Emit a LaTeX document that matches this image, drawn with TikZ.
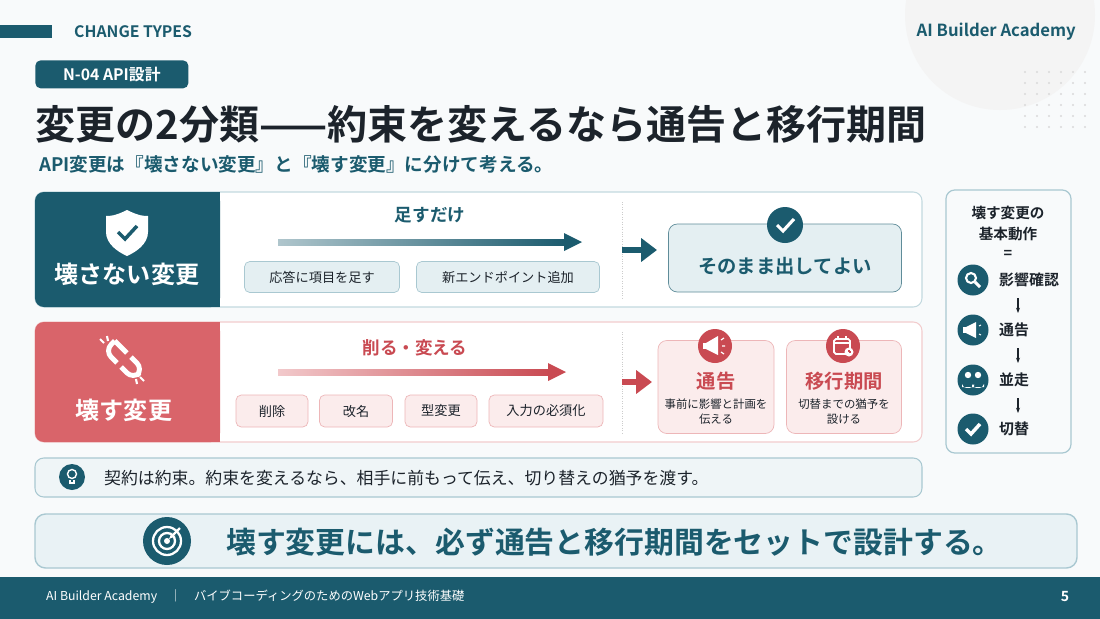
\documentclass[tikz,border=0pt]{standalone}
\usepackage{fontspec}
\setmainfont{Noto Sans CJK JP}[BoldFont={Noto Sans CJK JP Bold}]
\usetikzlibrary{arrows.meta,shapes.geometric}
\definecolor{teal}{HTML}{1B5B6E}
\definecolor{tealL}{HTML}{E4EFF2}
\definecolor{tealB}{HTML}{A9C8D1}
\definecolor{red}{HTML}{D9646A}
\definecolor{redD}{HTML}{C94A52}
\definecolor{pink}{HTML}{FBECEC}
\definecolor{pinkB}{HTML}{EDB6B8}
\definecolor{ink}{HTML}{1C232B}
\definecolor{bg}{HTML}{F8FAFB}
\newcommand{\fz}[1]{\fontsize{#1pt}{#1pt}\selectfont}
\tikzset{
 pill/.style={rounded corners=3pt,draw=tealB,fill=tealL,text=ink,font=\fz{7.5}},
 rpill/.style={rounded corners=3pt,draw=pinkB,fill=pink,text=ink,font=\fz{7.5}},
 panel/.style={rounded corners=5pt,draw=tealB!70,fill=white,line width=0.6pt},
 icon/.style={circle,fill=teal,minimum size=#1,inner sep=0pt},
 lbl/.style={anchor=west,font=\bfseries\fz{8.5},text=ink},
 dn/.style={-{Stealth[length=3pt]},ink,line width=0.8pt}
}
\begin{document}
\begin{tikzpicture}[x=0.02cm,y=-0.02cm]
\useasboundingbox (0,0) rectangle (1100,619);
\fill[bg] (0,0) rectangle (1100,619);
\fill[gray!9] (1000,15) circle (95);
\foreach \i in {0,...,5}\foreach \j in {0,...,5}{\fill[gray!30] (1025+\i*12,72+\j*11) circle (1.2);}
% header
\fill[teal] (0,25) rectangle (52,38);
\node[anchor=west,text=teal,font=\bfseries\fz{9}] (ct) at (68,32) {CHANGE TYPES};
\node[anchor=east,text=teal,font=\bfseries\fz{9.5}] (ab) at (1082,32) {AI Builder Academy};
\node[fill=teal,rounded corners=3pt,text=white,font=\bfseries\fz{9},minimum width=153*0.02cm,minimum height=28*0.02cm,anchor=north west,inner sep=0pt] (tag) at (35,60) {N-04 API設計};
\node[anchor=west,text=ink,font=\bfseries\fz{22.8}] (title) at (29,124) {変更の2分類——約束を変えるなら通告と移行期間};
\node[anchor=west,text=teal,font=\bfseries\fz{10.6}] (sub) at (33,164) {API変更は『壊さない変更』と『壊す変更』に分けて考える。};
% panel 1
\draw[panel] (35,192) rectangle (922,307);
\fill[teal,rounded corners=5pt] (35,192) rectangle (220,307);
\fill[teal] (200,192) rectangle (220,307);
\fill[white] (127,210) .. controls (115,216) and (110,216) .. (106,216) -- (106,232) .. controls (106,244) and (118,252) .. (127,256) .. controls (136,252) and (148,244) .. (148,232) -- (148,216) .. controls (144,216) and (139,216) .. (127,210) -- cycle;
\draw[teal,line width=2pt] (118,232) -- (125,239) -- (137,226);
\node[text=white,font=\bfseries\fz{13.7}] (p1) at (127,274) {壊さない変更};
\node[text=teal,font=\bfseries\fz{10}] (t1) at (430,215) {足すだけ};
\shade[left color=teal!35,right color=teal] (278,239) rectangle (566,245);
\fill[teal] (564,233) -- (582,242) -- (564,251) -- cycle;
\node[pill,minimum width=155*0.02cm,minimum height=31*0.02cm] (a1) at (322,277) {応答に項目を足す};
\node[pill,minimum width=183*0.02cm,minimum height=31*0.02cm] (a2) at (508,277) {新エンドポイント追加};
\draw[gray!40,densely dotted] (622,202) -- (622,300);
\coordinate (s1) at (622,250); \coordinate (e1) at (657,250);
\draw[teal,line width=3.5pt,-{Triangle[length=9pt,width=13pt]}] (s1) -- (e1);
\node[draw=teal!70,fill=tealL,rounded corners=5pt,minimum width=233*0.02cm,minimum height=68*0.02cm,text=teal,font=\bfseries\fz{11},text depth=0pt] (ok) at (785,258) {\raisebox{-8pt}{そのまま出してよい}};
\node[icon=36*0.02cm] (okc) at (785,225) {};
\draw[white,line width=1.8pt] (777,225) -- (783,231) -- (794,219);
% panel 2
\draw[panel,draw=pinkB!70] (35,322) rectangle (922,442);
\fill[red,rounded corners=5pt] (35,322) rectangle (220,442);
\fill[red] (200,322) rectangle (220,442);
\begin{scope}[shift={(124,360)},rotate=-45]
\draw[white,line width=2.8pt,rounded corners=5pt] (-20,-7) -- (-3,-7) (-3,7) -- (-20,7) -- (-20,-7);
\draw[white,line width=2.8pt,rounded corners=5pt] (3,-7) -- (20,-7) -- (20,7) -- (3,7);
\end{scope}
\draw[white,line width=1.2pt] (104,343) -- (100,339) (108,341) -- (107,336) (140,377) -- (144,381) (136,379) -- (137,384);
\node[text=white,font=\bfseries\fz{13.7}] (p2) at (124,410) {壊す変更};
\node[text=redD,font=\bfseries\fz{10}] (t2) at (415,348) {削る・変える};
\shade[left color=red!35,right color=redD] (278,369) rectangle (550,375);
\fill[redD] (548,363) -- (566,372) -- (548,381) -- cycle;
\node[rpill,minimum width=72*0.02cm,minimum height=32*0.02cm] (b1) at (272,411) {削除};
\node[rpill,minimum width=73*0.02cm,minimum height=32*0.02cm] (b2) at (356,411) {改名};
\node[rpill,minimum width=72*0.02cm,minimum height=32*0.02cm] (b3) at (441,411) {型変更};
\node[rpill,minimum width=114*0.02cm,minimum height=32*0.02cm] (b4) at (546,411) {入力の必須化};
\draw[gray!40,densely dotted] (622,332) -- (622,434);
\coordinate (s2) at (622,382); \coordinate (e2) at (652,382);
\draw[redD,line width=3.5pt,-{Triangle[length=9pt,width=13pt]}] (s2) -- (e2);
\node[draw=pinkB,fill=pink,rounded corners=5pt,minimum width=116*0.02cm,minimum height=93*0.02cm] (n1) at (716,387) {};
\node[text=redD,font=\bfseries\fz{11}] at (716,381) {通告};
\node[text=ink,font=\fz{6.5},align=center] at (716,412) {事前に影響と計画を\\[2pt]伝える};
\node[draw=pinkB,fill=pink,rounded corners=5pt,minimum width=115*0.02cm,minimum height=93*0.02cm] (n2) at (844,387) {};
\node[text=redD,font=\bfseries\fz{11}] at (844,381) {移行期間};
\node[text=ink,font=\fz{6.5},align=center] at (844,412) {切替までの猶予を\\[2pt]設ける};
\node[icon=34*0.02cm,fill=redD] (i1) at (715,346) {};
\fill[white] (706,343) -- (718,336) -- (718,355) -- (706,349) -- cycle;
\fill[white] (703,343) rectangle (707,349);
\draw[white,line width=0.7pt] (721,340) -- (724,338) (722,346) -- (725,346) (721,352) -- (724,354);
\node[icon=34*0.02cm,fill=redD] (i2) at (843,346) {};
\draw[white,line width=1pt,rounded corners=1pt] (834,339) rectangle (850,354);
\draw[white,line width=1pt] (834,343) -- (850,343) (838,336) -- (838,340) (846,336) -- (846,340);
\fill[white] (849,352) circle (4.5); \draw[redD,line width=0.6pt] (849,352) -- (849,349.5) (849,352) -- (851,352);
% right panel
\draw[rounded corners=5pt,draw=tealB,fill=bg,line width=0.7pt] (946,190) rectangle (1071,453);
\node[text=ink,font=\bfseries\fz{8.3},align=center] (rp) at (1008,232) {壊す変更の\\[4pt]基本動作\\[2pt]=};
\foreach \y/\t/\n in {280/影響確認/r1,330/通告/r2,380/並走/r3,429/切替/r4}{
 \node[icon=31*0.02cm] (\n c) at (973,\y) {};
 \node[lbl] (\n) at (993,\y) {\t};
}
\draw[white,line width=1.2pt] (971,278) circle (5); \draw[white,line width=1.8pt] (975,282) -- (980,287);
\fill[white] (966,327) -- (976,322) -- (976,338) -- (966,333) -- cycle; \fill[white] (963,327) rectangle (967,333);
\draw[white,line width=0.6pt] (979,326) -- (981,325) (979,334) -- (981,335);
\fill[white] (968,375) circle (3.2); \fill[white] (978,375) circle (3.2);
\fill[white] (962,387) -- (962,384) arc (180:0:6 and 4) -- (974,387) -- cycle;
\fill[white] (972,387) -- (972,384) arc (180:0:6 and 4) -- (984,387) -- cycle;
\draw[white,line width=2pt] (966,429) -- (971,434) -- (980,424);
\draw[dn] (1018,298) -- (1018,313);
\draw[dn] (1018,348) -- (1018,363);
\draw[dn] (1018,398) -- (1018,413);
% tip
\draw[rounded corners=5pt,draw=tealB,fill=tealL!60,line width=0.6pt] (35,458) rectangle (922,497);
\node[icon=26*0.02cm] (bulb) at (72,477) {};
\draw[white,line width=0.8pt] (72,474) circle (4.5); \draw[white,line width=0.8pt] (70,480) -- (70,483) -- (74,483) -- (74,480);
\node[anchor=west,text=ink,font=\fz{9.6}] (tip) at (98,478) {契約は約束。約束を変えるなら、相手に前もって伝え、切り替えの猶予を渡す。};
% bottom
\draw[rounded corners=6pt,draw=tealB,fill=tealL!80,line width=0.8pt] (35,514) rectangle (1077,568);
\node[icon=48*0.02cm] (tg) at (167,541) {};
\draw[white,line width=1.3pt] (167,541) circle (14) (167,541) circle (8);
\fill[white] (167,541) circle (3);
\draw[white,line width=1.3pt,-{Stealth[length=4pt]}] (180,528) -- (169,539);
\node[anchor=west,text=teal,font=\bfseries\fz{17}] (msg) at (220,542) {壊す変更には、必ず通告と移行期間をセットで設計する。};
% footer
\fill[teal] (0,577) rectangle (1100,619);
\node[anchor=west,text=white,font=\fz{7}] (ft) at (40,597) {AI Builder Academy\quad｜\quad バイブコーディングのためのWebアプリ技術基礎};
\node[text=white,font=\bfseries\fz{8}] (pg) at (1065,597) {5};
\end{tikzpicture}
\end{document}
